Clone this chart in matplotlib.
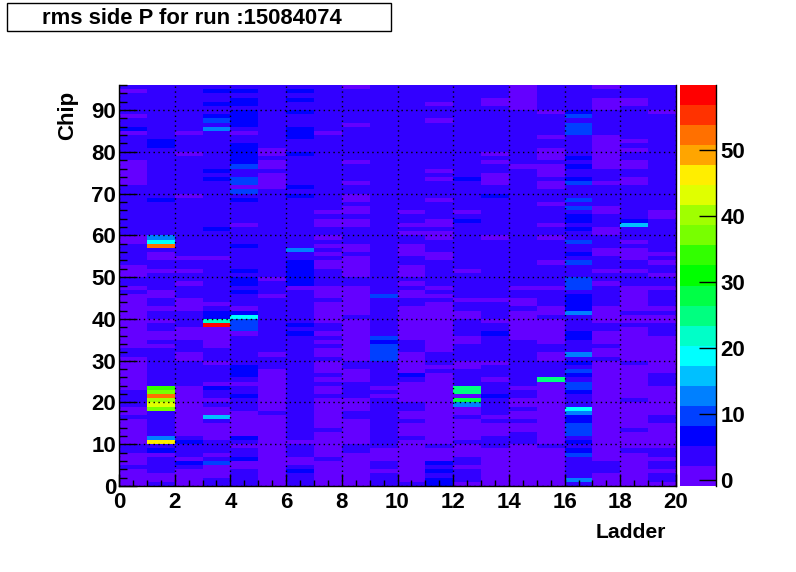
#!/usr/bin/env python3
# rms side P per ladder and chip, ROOT style COLZ map
import numpy as np
import matplotlib
matplotlib.use('Agg')
import matplotlib.pyplot as plt
from matplotlib.colors import ListedColormap, BoundaryNorm
from matplotlib.patches import Rectangle

plt.rcParams['font.family'] = ['Liberation Sans', 'DejaVu Sans']
plt.rcParams['font.weight'] = 'bold'

TITLE = 'rms side P for run :15084074'
XLABEL = 'Ladder'
YLABEL = 'Chip'
N_CHIPS = 96

# each ladder: (number of chips in a row, rms), going up from chip 0
LADDER_01 = [(4,1),(1,4),(3,1),(2,4),(6,1),(1,4),(2,1),(4,4),(8,1),(2,4),(13,1),(1,4),(1,1),(2,4),(3,1),(5,4),(2,1),(12,4),(6,1),(6,4),(1,1),(1,7),(2,4),(1,1),(5,4),(1,1),(1,4)]
LADDER_02 = [(1,4),(2,1),(4,4),(1,1),(1,7),(1,4),(1,46),(1,13),(6,4),(1,37),(1,43),(1,40),(1,52),(1,37),(1,34),(9,4),(1,1),(1,4),(2,1),(2,4),(1,1),(2,4),(1,1),(2,4),(2,1),(4,4),(1,1),(2,4),(2,1),(1,4),(1,52),(1,19),(1,13),(8,4),(1,7),(12,4),(2,7),(13,4)]
LADDER_03 = [(4,1),(1,4),(1,7),(1,1),(3,4),(1,7),(1,4),(12,1),(6,4),(2,1),(3,4),(3,1),(4,4),(3,1),(3,4),(1,1),(2,4),(1,1),(2,4),(1,1),(14,4),(1,1),(9,4),(1,1),(4,4),(1,1),(11,4)]
LADDER_04 = [(2,4),(3,1),(1,10),(1,4),(1,1),(3,4),(4,1),(1,4),(1,16),(2,1),(1,4),(1,1),(2,4),(1,7),(1,1),(4,4),(1,1),(3,4),(5,1),(1,58),(1,22),(2,7),(1,4),(1,1),(4,4),(6,4),(1,1),(6,4),(1,7),(11,4),(1,7),(1,4),(1,7),(9,4),(1,13),(1,4),(1,10),(1,7),(2,4),(1,7),(2,4),(1,7),(1,4)]
LADDER_05 = [(4,4),(2,1),(1,7),(2,4),(1,1),(1,4),(1,7),(6,1),(3,4),(1,7),(2,4),(1,1),(1,4),(3,7),(7,4),(1,1),(3,10),(1,19),(1,7),(1,1),(3,4),(1,7),(1,4),(2,7),(1,4),(1,7),(5,4),(1,7),(4,4),(1,1),(5,4),(1,7),(1,4),(1,10),(1,1),(2,10),(2,4),(1,10),(5,7),(2,4),(1,1),(1,4),(4,7),(1,4),(2,7),(1,4),(1,7),(1,4)]
LADDER_06 = [(17,1),(1,4),(10,1),(3,4),(1,1),(13,4),(1,1),(2,4),(1,4),(1,1),(21,4),(4,1),(1,4),(2,1),(1,4),(2,1),(15,4)]
LADDER_07 = [(3,4),(1,7),(1,4),(2,1),(3,4),(1,1),(25,4),(1,7),(1,4),(1,7),(8,4),(1,1),(6,7),(2,4),(1,13),(12,4),(1,7),(1,4),(1,7),(7,4),(1,7),(3,4),(3,7),(3,4),(1,7),(2,4),(1,7),(1,4),(1,7),(1,4)]
LADDER_08 = [(6,1),(1,4),(6,1),(1,4),(7,1),(1,4),(2,1),(1,4),(1,1),(1,4),(3,1),(1,4),(2,1),(1,4),(1,1),(1,4),(1,1),(2,4),(5,1),(1,4),(3,1),(4,4),(2,1),(1,4),(1,1),(1,4),(1,1),(1,4),(1,1),(2,4),(2,1),(1,4),(1,1),(18,4),(1,1),(11,4)]
LADDER_09 = [(8,1),(2,4),(6,1),(2,4),(3,1),(4,4),(3,1),(2,4),(10,1),(1,4),(7,1),(2,4),(5,1),(1,4),(2,1),(4,4),(2,1),(1,4),(2,1),(1,4),(2,1),(2,4),(1,1),(4,4),(1,1),(8,4),(1,1),(8,4),(1,1)]
LADDER_10 = [(3,4),(1,1),(2,4),(3,1),(12,4),(1,1),(1,4),(1,1),(6,4),(4,10),(1,7),(1,10),(9,4),(1,10),(50,4)]
LADDER_11 = [(1,4),(10,1),(1,4),(3,1),(1,4),(2,1),(2,4),(5,1),(1,4),(1,7),(5,1),(3,4),(8,1),(2,4),(2,1),(1,4),(1,1),(1,4),(3,1),(2,4),(3,1),(2,4),(1,1),(1,4),(1,1),(2,4),(1,1),(30,4)]
LADDER_12 = [(2,7),(1,4),(1,7),(1,4),(1,7),(3,1),(1,4),(17,1),(1,4),(1,1),(3,4),(12,1),(1,4),(1,1),(1,4),(1,1),(6,4),(2,1),(3,4),(2,1),(1,4),(2,1),(4,4),(1,1),(4,4),(1,1),(1,4),(1,1),(11,4),(1,1),(3,4),(1,1),(4,4)]
LADDER_13 = [(1,1),(3,4),(1,1),(2,4),(3,1),(1,4),(5,1),(1,4),(2,1),(1,13),(1,28),(1,1),(2,25),(4,4),(2,1),(4,4),(2,1),(4,4),(2,1),(2,4),(1,1),(3,4),(3,4),(1,1),(11,4),(1,7),(1,4),(1,1),(7,4),(1,7),(22,4)]
LADDER_14 = [(9,1),(3,4),(3,1),(1,4),(1,1),(4,4),(1,7),(3,4),(1,1),(3,4),(1,1),(6,4),(1,7),(2,4),(1,1),(4,4),(1,1),(3,4),(11,4),(1,1),(9,4),(1,7),(2,4),(3,1),(2,4),(1,1),(1,4),(1,1),(11,4),(2,1),(3,4)]
LADDER_15 = [(10,1),(3,4),(2,1),(1,4),(2,1),(1,4),(2,1),(2,4),(1,1),(11,4),(7,1),(1,4),(2,1),(2,4),(1,1),(28,4),(1,1),(13,4),(6,1)]
LADDER_16 = [(9,1),(1,4),(15,1),(1,25),(4,4),(2,1),(2,4),(6,1),(1,4),(2,1),(4,4),(1,1),(5,4),(1,1),(5,4),(1,1),(2,4),(1,1),(4,4),(1,1),(3,4),(2,1),(1,4),(3,1),(1,4),(3,1),(2,4),(1,1),(5,4),(1,1),(6,4)]
LADDER_17 = [(1,4),(1,13),(5,4),(1,10),(1,7),(1,4),(1,7),(1,4),(3,10),(2,7),(1,13),(1,19),(3,4),(1,7),(2,10),(1,4),(1,7),(1,10),(1,4),(1,7),(1,4),(1,13),(3,4),(2,7),(4,4),(1,13),(4,7),(1,4),(1,10),(2,10),(3,4),(1,10),(1,4),(1,7),(2,4),(1,10),(2,4),(1,7),(1,4),(2,7),(1,4),(1,10),(1,4),(1,10),(3,4),(1,10),(1,7),(2,4),(1,7),(1,4),(1,7),(5,4),(3,10),(1,4),(1,10),(1,7),(6,4)]
LADDER_18 = [(3,1),(3,4),(24,1),(1,4),(2,1),(1,4),(3,1),(2,4),(4,1),(5,4),(1,1),(2,4),(1,1),(3,4),(2,1),(3,4),(2,1),(3,4),(2,1),(5,4),(1,1),(3,4),(8,1),(6,4),(3,1),(2,4),(1,1)]
LADDER_19 = [(8,1),(1,4),(4,1),(1,4),(6,1),(1,4),(8,1),(1,4),(7,1),(1,1),(1,4),(1,1),(1,1),(1,4),(6,1),(3,4),(1,1),(2,4),(3,1),(1,4),(1,1),(3,4),(1,16),(1,7),(8,4),(2,1),(2,4),(2,1),(2,4),(1,1),(1,4),(1,1),(8,4),(2,1),(3,4)]
LADDER_20 = [(1,1),(2,4),(1,1),(2,4),(1,1),(2,4),(6,1),(2,4),(7,1),(3,4),(9,1),(3,4),(2,1),(1,4),(1,1),(4,4),(1,1),(2,4),(1,1),(2,4),(1,1),(1,4),(1,1),(8,4),(2,1),(23,4),(1,1),(6,4)]
LADDERS = [LADDER_01, LADDER_02, LADDER_03, LADDER_04, LADDER_05,
           LADDER_06, LADDER_07, LADDER_08, LADDER_09, LADDER_10,
           LADDER_11, LADDER_12, LADDER_13, LADDER_14, LADDER_15,
           LADDER_16, LADDER_17, LADDER_18, LADDER_19, LADDER_20]

# ROOT palette, 20 contours
PALETTE = ['#6400ff', '#3200ff', '#0000ff', '#0040ff', '#0080ff',
           '#00c0ff', '#00ffff', '#00ffc8', '#00ff80', '#00ff46',
           '#00ff00', '#32ff00', '#78ff00', '#a0ff00', '#e0ff00',
           '#ffee00', '#ffa500', '#ff7000', '#ff3200', '#ff0000']
Z_MIN = -0.9
Z_MAX = 59.8
CBAR_TICKS = [0, 10, 20, 30, 40, 50]

rms = np.zeros((N_CHIPS, len(LADDERS)))
for i, runs in enumerate(LADDERS):
    column = []
    for count, value in runs:
        column += [value] * count
    rms[:, i] = column

W, H = 796, 572
fig = plt.figure(figsize=(W / 100, H / 100), dpi=100)
fig.patch.set_facecolor('white')


def box(x0, y0, x1, y1):
    # pixel box, y from the top
    return [x0 / W, 1 - y1 / H, (x1 - x0) / W, (y1 - y0) / H]


ax = fig.add_axes(box(119, 85, 676, 486))
cmap = ListedColormap(PALETTE)
norm = BoundaryNorm(np.linspace(Z_MIN, Z_MAX, len(PALETTE) + 1), cmap.N)
mesh = ax.pcolormesh(np.arange(len(LADDERS) + 1), np.arange(N_CHIPS + 1), rms,
                     cmap=cmap, norm=norm)
ax.set_xlim(0, 20)
ax.set_ylim(0, 96)
ax.set_xticks(np.arange(0, 21, 2))
ax.set_xticks(np.arange(0, 20.5, 0.5), minor=True)
ax.set_yticks(np.arange(0, 91, 10))
ax.set_yticks(np.arange(0, 97, 2), minor=True)
ax.tick_params(axis='x', which='major', direction='in', length=8.6, width=1,
               labelsize=16, pad=4)
ax.tick_params(axis='x', which='minor', direction='in', length=4.3, width=1)
ax.tick_params(axis='y', which='major', direction='in', length=13, width=1,
               labelsize=16, pad=2)
ax.tick_params(axis='y', which='minor', direction='in', length=6, width=1)
ax.set_axisbelow(False)
ax.grid(True, which='major', color='black', linestyle=(0, (1, 2.5)), linewidth=1)
ax.spines['top'].set_visible(False)
for name in ['left', 'bottom', 'right']:
    ax.spines[name].set_linewidth(1)

fig.text(666 / W, 1 - 532 / H, XLABEL, ha='right', va='center', fontsize=15.2)
fig.text(68 / W, 1 - 140 / H, YLABEL, ha='center', va='bottom', rotation=90, fontsize=16)

cax = fig.add_axes(box(680, 85, 716, 486))
cbar = fig.colorbar(mesh, cax=cax, ticks=CBAR_TICKS, spacing='proportional')
cbar.outline.set_visible(False)
cbar.ax.minorticks_off()
cax.spines['right'].set_visible(True)
cax.spines['right'].set_linewidth(1)
cax.tick_params(axis='y', direction='in', length=12.5, width=1, labelsize=16, pad=3)

# title box
fig.add_artist(Rectangle((7.5 / W, 1 - 31 / H), 383 / W, 28.5 / H, transform=fig.transFigure,
                         facecolor='white', edgecolor='black', linewidth=1))
fig.text(192 / W, 1 - 19 / H, TITLE, ha='center', va='center', fontsize=15.8)

fig.savefig('out.png', dpi=100)
